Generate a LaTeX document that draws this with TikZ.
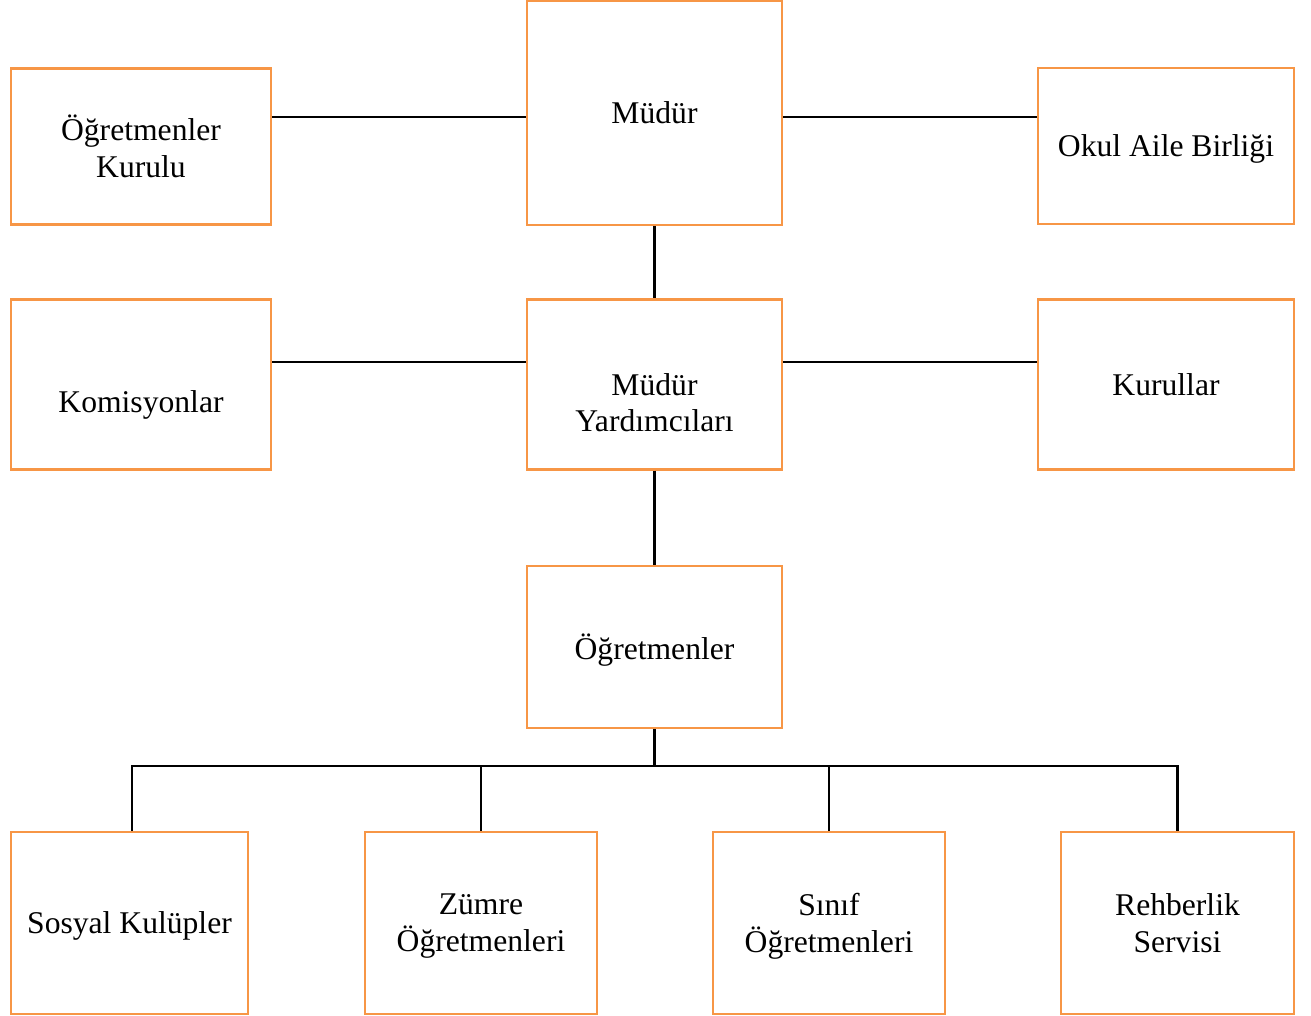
\documentclass[tikz,border=0pt]{standalone}
\usepackage{fontspec}
\setmainfont{Liberation Serif}
\usetikzlibrary{positioning}

\definecolor{boxorange}{HTML}{F79646}

\tikzset{
  box/.style={draw=boxorange, line width=1.2pt, fill=white, align=center,
    inner sep=2pt, text depth=0pt, font=\fontsize{18}{21}\selectfont},
  txt/.style={align=center, text depth=0pt, font=\fontsize{18}{21}\selectfont},
  link/.style={draw=black, line width=1.2pt}
}

\begin{document}
\begin{tikzpicture}[x=0.02cm, y=-0.02cm]
  \useasboundingbox (0,0) rectangle (1311,1015);

  % Top row
  \node[box, minimum width=5.1cm, minimum height=4.48cm] (mudur) at (654.5,113) {Müdür};
  \node[box, minimum width=5.2cm, minimum height=3.12cm] (ogkurul) at (141,146.5) {Öğretmenler\\Kurulu};
  \node[box, minimum width=5.12cm, minimum height=3.12cm] (okulaile) at (1166,146) {Okul Aile Birliği};

  % Second row
  \node[box, minimum width=5.2cm, minimum height=3.4cm,
    label={[txt, yshift=-0.35cm]center:Komisyonlar}] (komisyon) at (141,384.5) {};
  \node[box, minimum width=5.1cm, minimum height=3.4cm,
    label={[txt, yshift=-0.36cm]center:Müdür\\Yardımcıları}] (myard) at (654.5,384.5) {};
  \node[box, minimum width=5.12cm, minimum height=3.4cm] (kurullar) at (1166,384.5) {Kurullar};

  % Teachers
  \node[box, minimum width=5.1cm, minimum height=3.24cm] (ogretmen) at (654.5,647) {Öğretmenler};

  % Bottom row
  \node[box, minimum width=4.74cm, minimum height=3.64cm] (sosyal) at (129.5,923) {Sosyal Kulüpler};
  \node[box, minimum width=4.64cm, minimum height=3.64cm] (zumre) at (481,923) {Zümre\\Öğretmenleri};
  \node[box, minimum width=4.64cm, minimum height=3.64cm] (sinif) at (829,923) {Sınıf\\Öğretmenleri};
  \node[box, minimum width=4.66cm, minimum height=3.64cm] (rehber) at (1177.5,923) {Rehberlik\\Servisi};

  \coordinate (bus) at (0,766);

  % Connectors
  \draw[link] (ogkurul.east |- 0,117) -- (mudur.west |- 0,117);
  \draw[link] (mudur.east |- 0,117) -- (okulaile.west |- 0,117);
  \draw[link] (mudur.south) -- (myard.north);
  \draw[link] (komisyon.east |- 0,362) -- (myard.west |- 0,362);
  \draw[link] (myard.east |- 0,362) -- (kurullar.west |- 0,362);
  \draw[link] (myard.south) -- (ogretmen.north);
  \draw[link] (ogretmen.south) -- (ogretmen.south |- bus);
  \draw[link] ([xshift=0.05cm]sosyal.north) |- (bus -| rehber.north) -- (rehber.north);
  \draw[link] (zumre.north) -- (zumre.north |- bus);
  \draw[link] (sinif.north) -- (sinif.north |- bus);
\end{tikzpicture}
\end{document}
